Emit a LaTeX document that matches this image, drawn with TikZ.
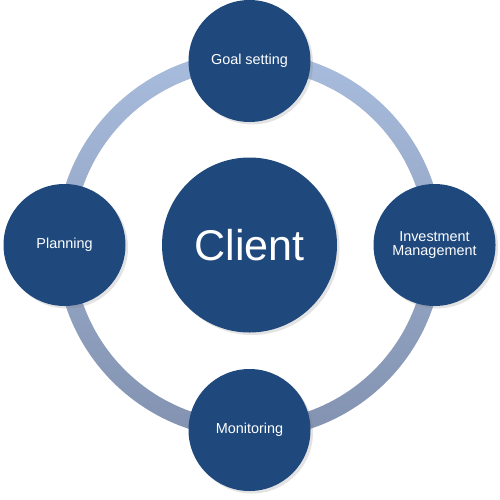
\documentclass[tikz,border=0pt]{standalone}
\usepackage{fontspec}
\setmainfont{Liberation Sans}
\usepackage{tikz}
\usetikzlibrary{shadows,positioning,calc}
\definecolor{discblue}{RGB}{31,73,125}
\definecolor{ringtop}{RGB}{168,188,221}
\definecolor{ringbot}{RGB}{130,146,176}
\tikzset{
  cycle schemes/.style = {
    % satellite disc
    stage/.style = {
      circle, fill=discblue, text=white,
      minimum size=2.44cm, inner sep=0pt,
      align=center, font=\fontsize{8.2}{9}\selectfont,
      drop shadow={opacity=0.22, shadow xshift=0.05cm, shadow yshift=-0.05cm}
    },
    % central disc
    hubdisc/.style = { stage, minimum size=3.5cm,
      font=\fontsize{24.5}{26}\selectfont },
  }
}
\begin{document}
\begin{tikzpicture}[cycle schemes]
\useasboundingbox (0,0) rectangle (10,9.98);
\coordinate (hub) at (4.99,5.08);
% ring (with faint shadow)
\fill[black, opacity=0.12, even odd rule, shift={(0.04,-0.04)}]
   (hub) circle (3.87cm) (hub) circle (3.53cm);
\shade[top color=ringtop, bottom color=ringbot, even odd rule]
   (hub) circle (3.87cm) (hub) circle (3.53cm);
%---------------------------------------------
\node[hubdisc] (client) at (hub) {Client};
\node[stage] (goal)    at ($(hub)+(0, 3.68)$)  {Goal setting};
\node[stage] (monitor) at ($(hub)+(0,-3.70)$)  {Monitoring};
\node[stage] (plan)    at ($(hub)+(-3.70,0)$)  {Planning};
\node[stage] (invest)  at ($(hub)+( 3.70,0)$)  {Investment\\[-1pt]Management};
\end{tikzpicture}
\end{document}
